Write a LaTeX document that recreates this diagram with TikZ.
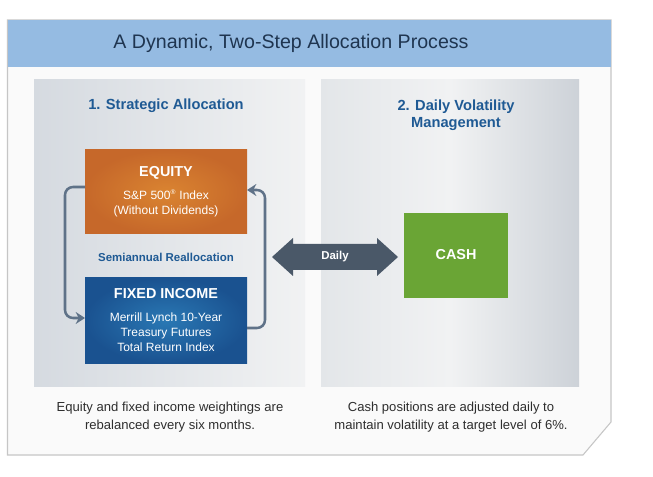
\documentclass[tikz,border=0pt]{standalone}
\usepackage{fontspec}
\setmainfont{Liberation Sans}
\usetikzlibrary{arrows.meta}
\definecolor{hdr}{HTML}{95BBE2}
\definecolor{ttl}{HTML}{1F3550}
\definecolor{sub}{HTML}{1F5A94}
\definecolor{frameline}{HTML}{C6C6C6}
\definecolor{framefill}{HTML}{FAFAFA}
\definecolor{loopc}{HTML}{5F7288}
\definecolor{dblc}{HTML}{4A5868}
\definecolor{cashc}{HTML}{6AA535}
\definecolor{bodytxt}{HTML}{2E2E2E}
\definecolor{pdark}{HTML}{D5DAE0}
\definecolor{pmid}{HTML}{E3E6E9}
\definecolor{plight}{HTML}{F1F2F3}
\definecolor{pedge}{HTML}{CDD2D8}
\definecolor{eqin}{HTML}{DA8431}
\definecolor{eqout}{HTML}{C6682A}
\definecolor{fiin}{HTML}{2A78B4}
\definecolor{fiout}{HTML}{1A5290}
\tikzset{
  px/.style={x=0.75pt,y=-0.75pt},
  heading/.style={text=sub,font=\fontsize{11pt}{13pt}\selectfont\bfseries,align=center},
  boxtitle/.style={text=white,font=\fontsize{10.8pt}{12pt}\selectfont\bfseries},
  boxline/.style={text=white,font=\fontsize{9pt}{11.2pt}\selectfont,align=center},
  bodytext/.style={text=bodytxt,font=\fontsize{9.8pt}{13.5pt}\selectfont,align=center},
  loop/.style={draw=loopc,line width=1.9pt,rounded corners=6pt,-{Stealth[length=7pt,width=9pt]}},
}
\begin{document}
\begin{tikzpicture}[px]
\useasboundingbox (0,0) rectangle (653,477);
\fill[white] (0,0) rectangle (653,477);
% outer frame
\draw[frameline,fill=framefill,line width=0.8pt] (7.5,20) -- (611,20) -- (611,422) -- (583,455) -- (7.5,455) -- cycle;
\fill[hdr] (8,20.5) rectangle (610.5,67);
\node[text=ttl,font=\fontsize{14.7pt}{16pt}\selectfont] (title) at (291,43) {A Dynamic, Two-Step Allocation Process};
% panels
\shade[left color=pdark,right color=plight] (34,80) rectangle (305,386);
\shade[left color=pmid,right color=pedge,middle color=plight] (321,80) rectangle (579,386);
% headings
\node[heading] (h1) at (166,106) {1. Strategic Allocation};
\node[heading] (h2) at (456,115.5) {2. Daily Volatility\\Management};
% equity box
\shade[inner color=eqin, outer color=eqout] (85,150) rectangle (247,234);
\node[boxtitle] (eqt) at (166,173) {EQUITY};
\node[boxline] (eqd) at (166,203) {S\&P 500\textsuperscript{\fontsize{5pt}{5pt}\selectfont ®} Index\\(Without Dividends)};
\coordinate (eqL) at (85,187);
\coordinate (eqR) at (247,190);
% fixed income box
\shade[inner color=fiin, outer color=fiout] (85,278) rectangle (247,363);
\node[boxtitle] (fit) at (166,294) {FIXED INCOME};
\node[boxline] (fid) at (166,332) {Merrill Lynch 10-Year\\Treasury Futures\\Total Return Index};
\coordinate (fiL) at (85,318);
\coordinate (fiR) at (247,328);
% semiannual
\node[text=sub,font=\fontsize{8.6pt}{10pt}\selectfont\bfseries] (semi) at (166,257) {Semiannual Reallocation};
% loops
\draw[loop] (eqL) -- (65,187) -- (65,318) -- (fiL);
\draw[loop] (fiR) -- (265,328) -- (265,190) -- (eqR);
% cash box
\fill[cashc] (404,213) rectangle (508,298);
\node[boxtitle] (cash) at (456,255) {CASH};
% daily double arrow
\fill[dblc] (272,257) -- (293,238) -- (293,244) -- (377,244) -- (377,238) -- (398,257) -- (377,276) -- (377,270) -- (293,270) -- (293,276) -- cycle;
\node[text=white,font=\fontsize{8.6pt}{10pt}\selectfont\bfseries] (daily) at (335,257) {Daily};
% bottom texts
\node[bodytext] (b1) at (170,417) {Equity and fixed income weightings are\\rebalanced every six months.};
\node[bodytext] (b2) at (451,417) {Cash positions are adjusted daily to\\maintain volatility at a target level of 6\%.};
\end{tikzpicture}
\end{document}
